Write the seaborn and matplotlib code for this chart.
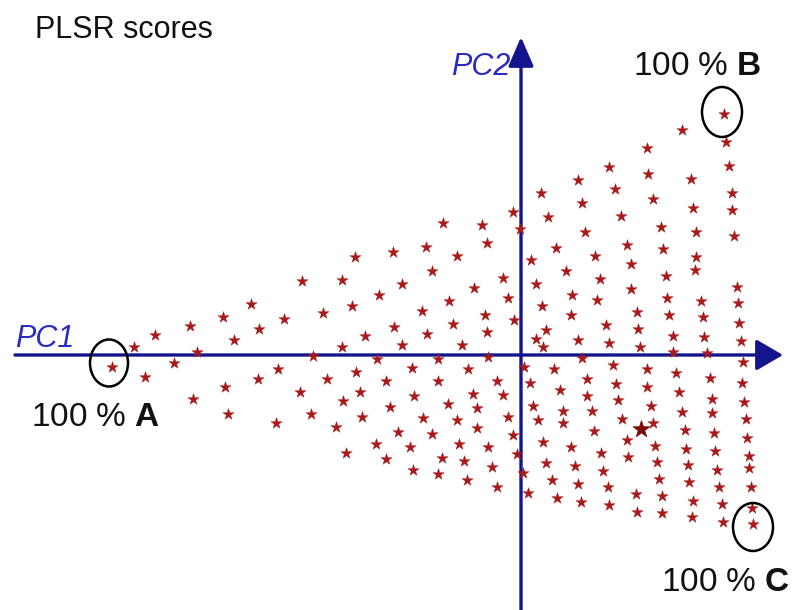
import numpy as np
import pandas as pd
import matplotlib
matplotlib.use("Agg")
import matplotlib.pyplot as plt
from matplotlib.patches import Ellipse
import seaborn as sns

# PLSR score coordinates of the A/B/C mixture samples (PC1, PC2)
pc1 = [
    -409, -387, -366, -376, -347, -331, -324, -328,
    -166, -128, -219, -179, -142, -270, -298, -198, -169, -237, -262, -287,
    -156, -179, -127, -208, -144, -243, -263, -165, -194, -135, -296, -221,
    -161, -178, -131, -293, -210, -159, -245, -185, -145, -175, -135,
    57, 20, 61, -8, 27, -78, -39, -1, 64, -34, -95, -64, 35, 10, -89, 45,
    -18, -119, -47, 15, -72, -13, 51, -99, 21, -36, 50, -68, -7, -34, 25,
    -94, 15, 57, -119, -59, 22,
    -83, -33, 3, 61, -109, -53, 33, -83, -24, 9, 66, -107, -48, -18, 39, 66,
    -73, -44, 12, 42, -98, -64, -13, 17, 42, -123, -89, -44, -8, 22, -111,
    -62, -33, -4, 50, -79, -57, 25, 54, -108, -83, -29, 2, -54, -24, 31, 57,
    7, 36, 60,
    203, 161, 205, 126, 208, 88, 127, 170, 211, 94, 132, 172, 211,
    100, 140, 175, 213, 106, 142, 74, 175, 174, 110, 145, 79, 216, 110, 146,
    76, 180, 217, 116, 148, 182, 85, 218, 117, 152, 183, 220, 88, 119,
    152, 186, 92, 126, 155, 222, 95, 126, 189, 221, 97, 158, 191, 223, 71,
    130, 161, 191, 101, 225, 73, 132, 164, 193, 226, 106, 134, 165, 194, 80,
    228, 107, 136, 167, 228, 82, 196, 138, 168, 87, 198, 230,
    88, 115, 116, 141, 141, 172, 171, 201, 202, 231, 232,
]
pc2 = [
    -12, 8, 20, -22, -8, 29, 3, -44,
    98, 103, 74, 75, 60, 51, 38, 42, 49, 36, 26, 15,
    19, 8, 28, -1, -4, -14, -24, -17, -24, -26, -32, -37,
    -37, -46, -52, -59, -59, -62, -68, -72, -89, -98, -104,
    175, 162, 152, 143, 138, 132, 130, 126, 123, 112, 108, 99, 107, 95, 84, 84,
    77, 71, 67, 71, 54, 57, 60, 44, 49, 40, 40, 31, 35, 23, 25,
    21, 16, 15, 10, 10, 8,
    -4, -2, -12, -3, -13, -14, -14, -26, -26, -28, -24, -41, -39, -40, -35, -41,
    -49, -53, -51, -56, -63, -65, -62, -65, -68, -77, -79, -73, -80, -87, -92,
    -89, -92, -99, -92, -103, -106, -108, -111, -115, -119, -112, -118, -125, -132, -125, -129,
    -138, -143, -147,
    241, 225, 213, 207, 189, 188, 181, 176, 162, 166, 156, 147, 145,
    139, 128, 123, 119, 110, 106, 99, 98, 85, 91, 79, 76, 68, 66, 57,
    55, 54, 52, 43, 40, 38, 30, 32, 26, 19, 18, 14, 12, 8,
    3, 2, -10, -14, -18, -7, -29, -32, -23, -28, -45, -37, -44, -47, -56,
    -51, -57, -58, -64, -64, -76, -68, -75, -78, -83, -85, -91, -94, -96, -98,
    -101, -102, -107, -110, -113, -116, -115, -124, -127, -132, -132, -132,
    -150, -139, -157, -141, -158, -146, -162, -149, -167, -153, -169,
]
# sample that plots as a heavier star
hl_pc1 = [120]
hl_pc2 = [-74]

# pure-component samples that are circled and labelled
pure_names = ["A", "B", "C"]
pure_pc1 = [-412, 201, 232]
pure_pc2 = [-8, 243, -172]

scores = pd.DataFrame({"PC1": pc1, "PC2": pc2})
highlight = pd.DataFrame({"PC1": hl_pc1, "PC2": hl_pc2})

sns.set_style("white")
plt.rcParams["font.family"] = ["Liberation Sans", "DejaVu Sans"]
plt.rcParams["mathtext.fontset"] = "custom"
plt.rcParams["mathtext.rm"] = "Liberation Sans"
plt.rcParams["mathtext.bf"] = "Liberation Sans:bold"

fig = plt.figure(figsize=(7.96, 6.10), dpi=100)
ax = fig.add_axes([0, 0, 1, 1])
ax.set_xlim(-521, 275)
ax.set_ylim(-255, 355)
ax.set_axis_off()

axis_blue = "#14148c"
label_blue = "#2a2ac4"
star_red = "#a81a1a"

# score axes with arrowheads
ax.annotate("", xy=(262, 0), xytext=(-506, 0),
            arrowprops=dict(arrowstyle="-|>,head_length=0.55,head_width=0.32",
                            color=axis_blue, lw=2.4, mutation_scale=30,
                            shrinkA=0, shrinkB=0), zorder=1)
ax.annotate("", xy=(0, 318), xytext=(0, -255),
            arrowprops=dict(arrowstyle="-|>,head_length=0.6,head_width=0.26",
                            color=axis_blue, lw=2.4, mutation_scale=30,
                            shrinkA=0, shrinkB=0), zorder=1)

sns.scatterplot(data=scores, x="PC1", y="PC2", marker="*", s=72,
                color=star_red, edgecolor=star_red, linewidth=0.3,
                ax=ax, zorder=3, legend=False)
sns.scatterplot(data=highlight, x="PC1", y="PC2", marker="*", s=160,
                color="#7c0a0a", edgecolor="#7c0a0a", linewidth=0.6,
                ax=ax, zorder=3, legend=False)
ax.set_xlabel("")
ax.set_ylabel("")

# circles around the pure components
sizes = [(38, 47), (40, 50), (40, 48)]
for x, y, (w, h) in zip(pure_pc1, pure_pc2, sizes):
    ax.add_patch(Ellipse((x, y), w, h, fill=False, edgecolor="black",
                         lw=1.8, zorder=4))

label_pos = [(-425, -71, "center"), (176, 280, "center"), (205, -236, "center")]
for name, (lx, ly, ha) in zip(pure_names, label_pos):
    ax.text(lx, ly, "100 % $\\mathbf{" + name + "}$", fontsize=24,
            ha=ha, va="baseline", color="#111111")

ax.text(-486, 317, "PLSR scores", fontsize=22, ha="left", va="baseline",
        color="#111111")
ax.text(-506, 8, "PC1", fontsize=22, fontstyle="italic", color=label_blue,
        ha="left", va="baseline")
ax.text(-11, 280, "PC2", fontsize=22, fontstyle="italic", color=label_blue,
        ha="right", va="baseline")

fig.savefig("out.png", dpi=100)
